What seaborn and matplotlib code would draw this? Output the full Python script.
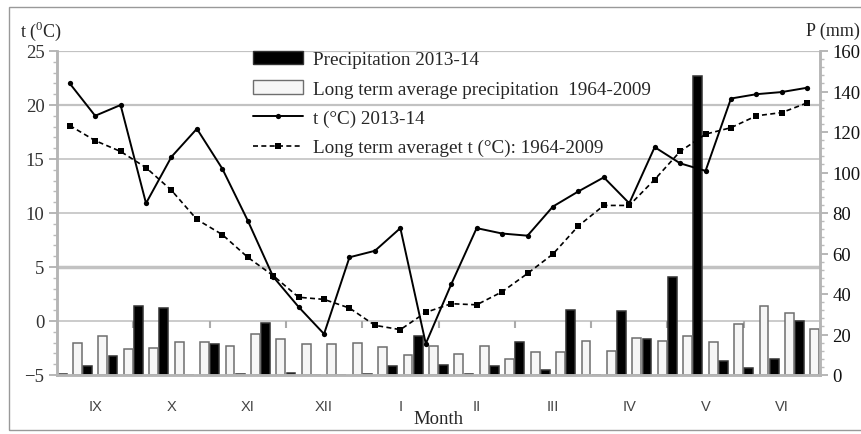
import numpy as np
import pandas as pd
import matplotlib
matplotlib.use("Agg")
import matplotlib.pyplot as plt
import seaborn as sns
from matplotlib.lines import Line2D
from matplotlib.patches import Patch, Rectangle
from matplotlib.ticker import MultipleLocator

# Dekads (10-day periods) from September 2013 to June 2014
months = ['IX', 'X', 'XI', 'XII', 'I', 'II', 'III', 'IV', 'V', 'VI']

# Precipitation per dekad, mm
p_2013 = [0.5, 4.4, 9.5, 33.9, 32.9, 0.0, 15.3, 0.5, 25.5, 1.0,
          0.0, 0.0, 0.5, 4.4, 19.4, 5.1, 0.5, 4.4, 16.1, 2.5,
          32.1, 0.0, 31.4, 17.9, 48.2, 147.8, 6.8, 3.3, 7.9, 26.8]
p_avg = [15.6, 19.1, 13.0, 13.5, 16.5, 16.5, 14.3, 20.2, 17.8, 15.3,
         15.3, 15.6, 13.7, 9.9, 14.5, 10.4, 14.5, 7.7, 11.4, 11.2,
         16.6, 11.7, 18.3, 16.8, 19.4, 16.1, 25.2, 34.2, 30.5, 22.6]

# Mean air temperature per dekad, deg C
t_2013 = [22.0, 19.0, 20.0, 10.9, 15.2, 17.8, 14.1, 9.3, 4.1, 1.3,
          -1.2, 5.9, 6.5, 8.6, -2.1, 3.4, 8.6, 8.1, 7.9, 10.6,
          12.0, 13.3, 10.9, 16.1, 14.6, 13.9, 20.6, 21.0, 21.2, 21.6]
t_avg = [18.1, 16.7, 15.7, 14.2, 12.1, 9.4, 8.0, 5.9, 4.2, 2.2,
         2.0, 1.2, -0.4, -0.8, 0.8, 1.6, 1.5, 2.7, 4.4, 6.2,
         8.8, 10.7, 10.7, 13.1, 15.7, 17.3, 17.9, 19.0, 19.3, 20.2]

lab_p = 'Precipitation 2013-14'
lab_pavg = 'Long term average precipitation  1964-2009'
lab_t = 't (°C) 2013-14'
lab_tavg = 'Long term averaget t (°C): 1964-2009'

dekad = np.arange(len(t_2013))

sns.set_style('white')
plt.rcParams['font.family'] = ['Liberation Serif', 'DejaVu Serif']
plt.rcParams['mathtext.fontset'] = 'custom'
plt.rcParams['mathtext.rm'] = 'Liberation Serif'

W, H = 861, 435
fig = plt.figure(figsize=(W / 100, H / 100), dpi=100)
axb = fig.add_axes([57 / W, 1 - 376 / H, 763 / W, 324 / H])
axt = axb.twinx()

# bars on the precipitation axis (drawn below the lines)
bars = pd.DataFrame({
    'dekad': np.tile(dekad, 2),
    'P': p_2013 + p_avg,
    'series': [lab_p] * len(p_2013) + [lab_pavg] * len(p_avg),
})
sns.barplot(data=bars, x='dekad', y='P', hue='series', hue_order=[lab_p, lab_pavg],
            palette=['black', '#f6f6f6'], saturation=1, width=1.2, gap=0.42,
            errorbar=None, legend=False, linewidth=1.1, ax=axb)
for bar in axb.containers[0]:
    bar.set_edgecolor('#333333')
for bar in axb.containers[1]:
    bar.set_edgecolor('#6e6e6e')

# temperature lines
sns.lineplot(x=dekad, y=t_2013, ax=axt, color='black', lw=1.4,
             marker='o', markersize=3.8, markeredgewidth=0)
sns.lineplot(x=dekad, y=t_avg, ax=axt, color='black', lw=1.2, linestyle=(0, (3, 2)),
             marker='s', markersize=3.8, markeredgewidth=0)

axb.set_xlim(-0.5, len(dekad) - 0.5)
axb.set_ylim(0, 160)
axt.set_ylim(-5, 25)

# horizontal grid follows the temperature ticks, kept under the bars
t_grid = [0, 5, 10, 15, 20, 25]
axb.hlines(t_grid, 0, 1, transform=axt.get_yaxis_transform(), colors='#c2c2c2',
           linewidths=[1.2, 2.5, 1.2, 1.2, 1.6, 1.6], zorder=0)

# axes / ticks
axb.yaxis.tick_right()
axt.yaxis.tick_left()
axb.set_yticks(range(0, 161, 20))
axb.yaxis.set_minor_locator(MultipleLocator(4))
axt.set_yticks(range(-5, 26, 5))
axt.yaxis.set_minor_locator(MultipleLocator(1))
axb.tick_params(axis='y', which='major', right=True, length=6, width=1.2, color='#aaaaaa',
                labelsize=13.5, labelcolor='#111111', pad=3)
axb.tick_params(axis='y', which='minor', right=True, length=3, width=1, color='#bbbbbb')
axt.tick_params(axis='y', which='major', left=True, length=6, width=1.2, color='#aaaaaa',
                labelsize=13.5, labelcolor='#333333', pad=3)
axt.tick_params(axis='y', which='minor', left=True, length=3, width=1, color='#bbbbbb')

centers = [3 * m + 1 for m in range(len(months))]
axb.set_xticks(centers, months)
axb.tick_params(axis='x', length=0, pad=17, labelsize=10.5, labelcolor='#444444')
for lbl in axb.get_xticklabels():
    lbl.set_fontfamily('Liberation Sans')

# month boundary ticks hanging from the 0 degC line
sec = axb.secondary_xaxis(5 / 30)
sec.set_xticks(np.arange(2.5, len(dekad) - 3, 3))
sec.tick_params(axis='x', length=5, width=1.5, color='#aaaaaa', labelbottom=False)
for s in sec.spines.values():
    s.set_visible(False)

for a in (axb, axt):
    a.spines['top'].set_visible(False)
    for side in ('left', 'right', 'bottom'):
        a.spines[side].set_color('#b5b5b5')
        a.spines[side].set_linewidth(1.8)
    a.set_ylabel('')

axb.set_xlabel('Month', fontsize=13.5, labelpad=-2)

fig.text(20 / W, 1 - 31 / H, r't ($^0$C)', fontsize=13, va='center', ha='left')
fig.text(860 / W, 1 - 31 / H, 'P (mm)', fontsize=13, va='center', ha='right')

handles = [
    Patch(facecolor='black', edgecolor='#333333', label=lab_p),
    Patch(facecolor='#f6f6f6', edgecolor='#6e6e6e', label=lab_pavg),
    Line2D([], [], color='black', lw=1.4, marker='o', markersize=3.8,
           markeredgewidth=0, label=lab_t),
    Line2D([], [], color='black', lw=1.2, linestyle=(0, (3, 2)), marker='s',
           markersize=3.8, markeredgewidth=0, label=lab_tavg),
]
axt.legend(handles=handles, loc='upper left', bbox_to_anchor=(253 / W, 1 - 52 / H),
           bbox_transform=fig.transFigure, frameon=False, fontsize=13.8,
           handlelength=2.6, handletextpad=0.55, labelspacing=0.62,
           borderpad=0, borderaxespad=0, numpoints=1)

fig.patches.append(Rectangle((9 / W, 1 - 431 / H), 900 / W, 423 / H, transform=fig.transFigure,
                             fill=False, edgecolor='#999999', linewidth=1))

fig.savefig('out.png', dpi=100)
